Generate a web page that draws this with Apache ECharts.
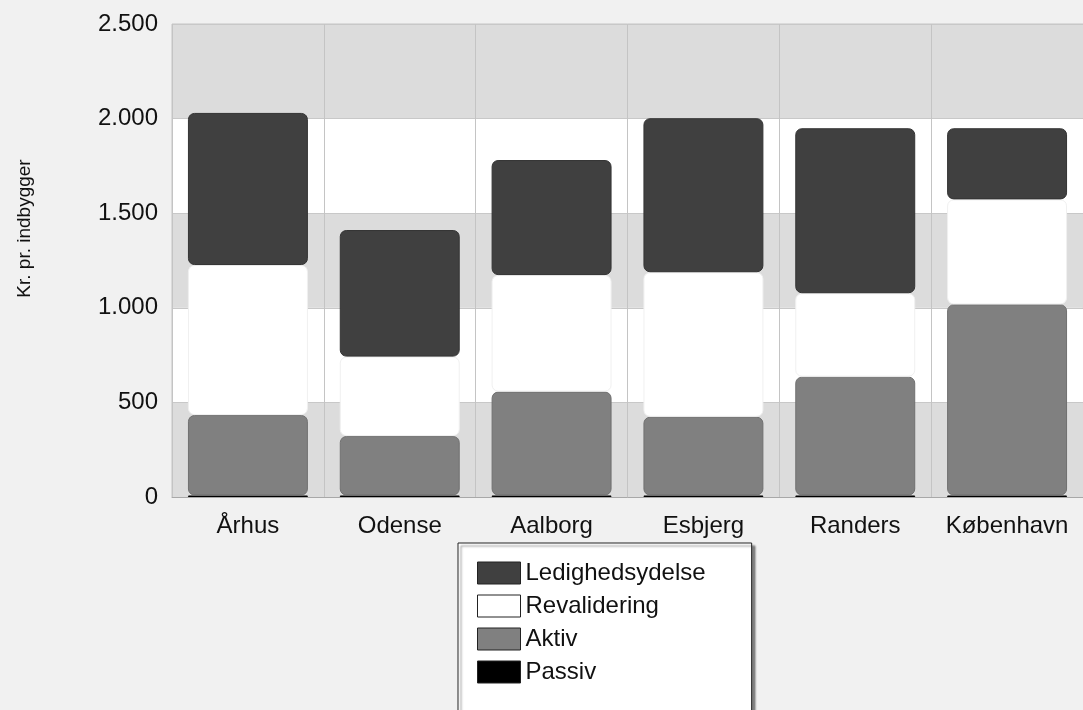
<!DOCTYPE html>
<html>
<head>
<meta charset="utf-8">
<script src="https://cdn.jsdelivr.net/npm/echarts@6/dist/echarts.min.js"></script>
<style>
  html, body { margin: 0; padding: 0; }
  #main { width: 1083px; height: 710px; background: #f1f1f1; }
</style>
</head>
<body>
<div id="main"></div>
<script>
// kommuner og udgifter, kr. pr. indbygger
var kommuner = ['Århus', 'Odense', 'Aalborg', 'Esbjerg', 'Randers', 'København']
var passiv = [8, 8, 8, 8, 8, 8]
var aktiv = [425, 314, 549, 416, 628, 1010]
var revalidering = [793, 420, 616, 764, 441, 555]
var ledighedsydelse = [804, 669, 608, 814, 872, 376]
var yTicks = [0, 500, 1000, 1500, 2000, 2500]

var font = 'Liberation Sans, Arial, sans-serif'

function seg(name, data, color, border, radius) {
  return {
    name: name,
    type: 'bar',
    stack: 'total',
    barWidth: '79%',
    data: data,
    itemStyle: {
      color: color,
      borderColor: border,
      borderWidth: 1,
      borderRadius: radius
    }
  }
}

var chart = echarts.init(document.getElementById('main'))
chart.setOption({
  backgroundColor: '#f1f1f1',
  animation: false,
  grid: {
    left: 172,
    top: 24,
    right: -1,
    bottom: 213,
    show: true,
    borderColor: '#c4c4c4',
    borderWidth: 1
  },
  legend: {
    orient: 'vertical',
    left: 458,
    top: 543,
    height: 400,
    data: ['Ledighedsydelse', 'Revalidering', 'Aktiv', 'Passiv'],
    icon: 'rect',
    itemWidth: 43,
    itemHeight: 22,
    itemGap: 9,
    padding: [18, 46, 40, 19],
    backgroundColor: '#fff',
    borderColor: '#222',
    borderWidth: 1,
    shadowColor: 'rgba(0,0,0,0.45)',
    shadowBlur: 2,
    shadowOffsetX: 3,
    shadowOffsetY: 3,
    itemStyle: { borderColor: '#222', borderWidth: 1, borderRadius: 0 },
    textStyle: { fontFamily: font, fontSize: 24, lineHeight: 22, color: '#111' }
  },
  xAxis: {
    type: 'category',
    data: kommuner,
    axisLine: { show: true, lineStyle: { color: '#a8a8a8', width: 1 } },
    axisTick: { show: false },
    axisLabel: { interval: 0, fontFamily: font, fontSize: 24, color: '#111', margin: 17 },
    splitLine: { show: true, interval: 0, lineStyle: { color: '#c4c4c4', width: 1 } }
  },
  yAxis: {
    type: 'value',
    min: yTicks[0],
    max: yTicks[yTicks.length - 1],
    interval: 500,
    name: 'Kr. pr. indbygger',
    nameLocation: 'middle',
    nameRotate: 90,
    nameGap: 138,
    nameTextStyle: { fontFamily: font, fontSize: 19, color: '#111', padding: [0, 0, 0, 64] },
    axisLine: { show: false },
    axisTick: { show: false },
    axisLabel: {
      fontFamily: font,
      fontSize: 24,
      color: '#111',
      margin: 14,
      formatter: function (v) {
        return String(v).replace(/\B(?=(\d{3})+(?!\d))/g, '.')
      }
    },
    splitLine: { show: true, lineStyle: { color: '#c8c8c8', width: 1 } },
    splitArea: { show: true, areaStyle: { color: ['#dcdcdc', '#ffffff'] } }
  },
  series: [
    seg('Passiv', passiv, '#000000', '#000000', 0),
    seg('Aktiv', aktiv, '#808080', '#707070', 6),
    seg('Revalidering', revalidering, '#ffffff', '#f0f0f0', 6),
    seg('Ledighedsydelse', ledighedsydelse, '#404040', '#333333', 6)
  ]
})
</script>
</body>
</html>
